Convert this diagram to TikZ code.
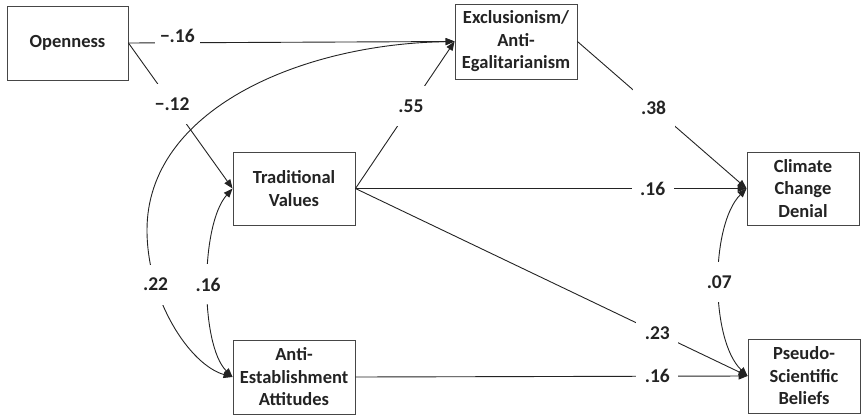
\documentclass[tikz,border=0pt]{standalone}
\usepackage{fontspec}
\setmainfont{Carlito}
\usetikzlibrary{arrows.meta}
\definecolor{ink}{RGB}{35,35,35}
\definecolor{boxline}{RGB}{70,70,70}
\tikzset{
  varbox/.style={draw=boxline, line width=0.9pt, fill=white, align=center,
    text=ink, font=\fontsize{18.5}{22.5}\selectfont\bfseries, inner sep=0pt},
  path/.style={draw=ink, line width=0.9pt, -{Triangle[length=9pt,width=7pt]}},
  corr/.style={draw=ink, line width=0.9pt, {Triangle[length=9pt,width=7pt]}-{Triangle[length=9pt,width=7pt]}},
  coef/.style={fill=white, text=ink, font=\fontsize{19.5}{22}\selectfont\bfseries,
    minimum width=42pt, minimum height=40pt, inner sep=2pt}
}
\begin{document}
\begin{tikzpicture}[x=1pt,y=-1pt]
\useasboundingbox (0,0) rectangle (864,415);
\node[varbox, minimum width=121pt, minimum height=74pt] (open) at (67.5,43) {Openness};
\node[varbox, minimum width=122pt, minimum height=75pt] (excl) at (516,41.5) {Exclusionism/\\Anti-\\Egalitarianism};
\node[varbox, minimum width=122pt, minimum height=73pt] (trad) at (294,188.5) {Traditional\\Values};
\node[varbox, minimum width=122pt, minimum height=74pt] (anti) at (294,377) {Anti-\\Establishment\\Attitudes};
\node[varbox, minimum width=112pt, minimum height=73pt] (clim) at (803,188.5) {Climate\\Change\\Denial};
\node[varbox, minimum width=112pt, minimum height=74pt] (pseu) at (804,376) {Pseudo-\\Scientific\\Beliefs};

\draw[path] (open.east) -- node[coef, pos=0.15, minimum height=20pt, anchor=base, inner xsep=5pt] (l1) {−.16} (excl.west);
\draw[path] (open.east) -- node[coef, pos=0.42] (l2) {−.12} (trad.west);
\draw[path] (trad.east) -- node[coef, pos=0.56] (l3) {.55} (excl.west);
\draw[path] (excl.east) -- node[coef, pos=0.45] (l4) {.38} (clim.west);
\draw[path] (trad.east) -- node[coef, pos=0.76] (l5) {.16} (clim.west);
\draw[path] (trad.east) -- node[coef, pos=0.77] (l6) {.23} (pseu.west);
\draw[path] (anti.east) -- node[coef, pos=0.77] (l7) {.16} (pseu.west);

\draw[corr] (excl.west) .. controls (300,44) and (147,110) .. (147,230)
  .. controls (147,300) and (190,365) .. (anti.west) node[coef, pos=0.27] (l8) {.22};
\draw[corr] (trad.west) .. controls (200,225) and (200,345) .. (anti.west) node[coef, pos=0.5] (l9) {.16};
\draw[corr] (clim.west) .. controls (710,225) and (710,340) .. (pseu.west) node[coef, pos=0.5] (l10) {.07};
\end{tikzpicture}
\end{document}
